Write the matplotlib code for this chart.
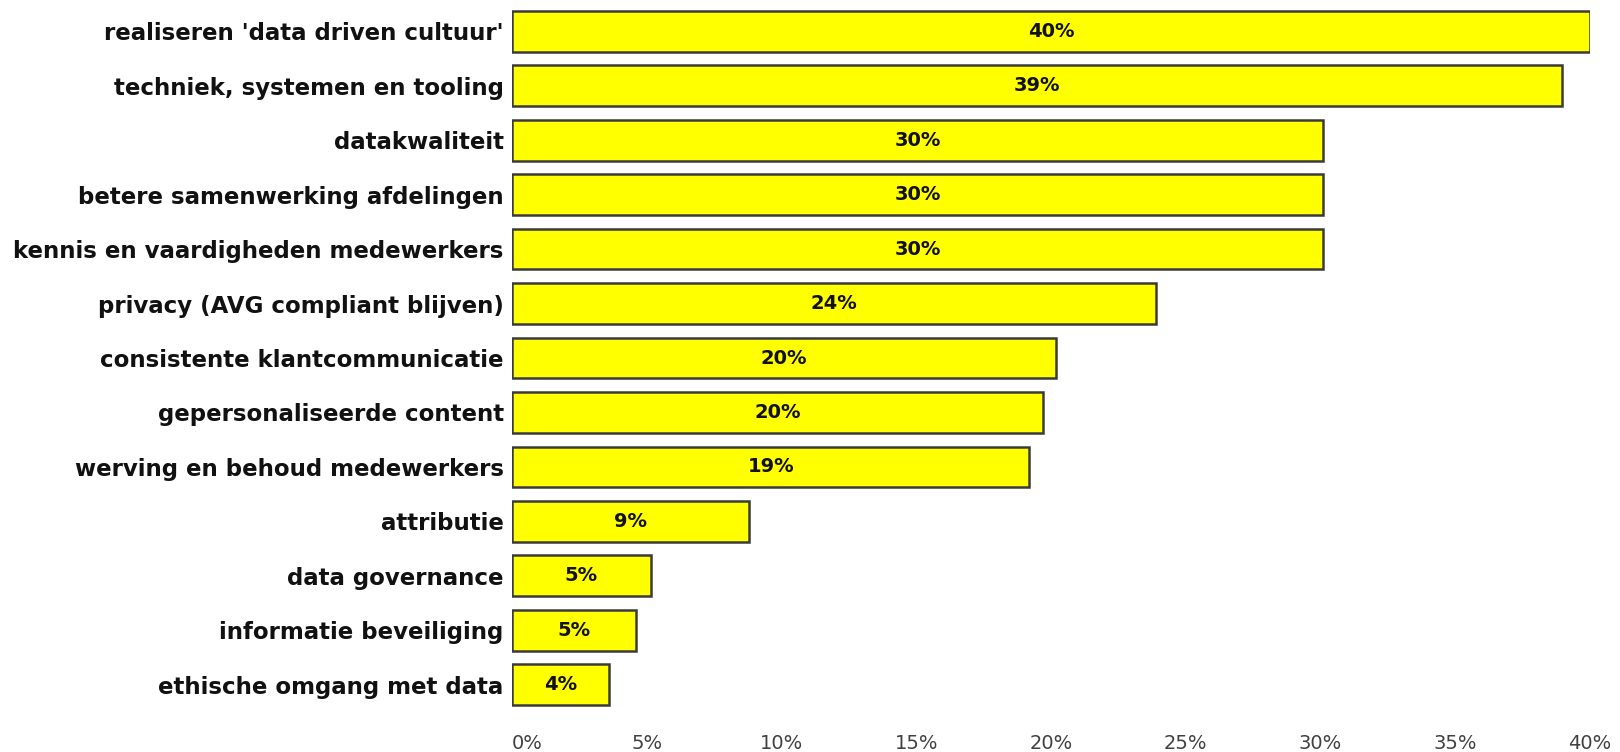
import matplotlib
matplotlib.use("Agg")
import matplotlib.pyplot as plt
from matplotlib.ticker import FixedLocator, FixedFormatter

categories = [
    "realiseren 'data driven cultuur'",
    "techniek, systemen en tooling",
    "datakwaliteit",
    "betere samenwerking afdelingen",
    "kennis en vaardigheden medewerkers",
    "privacy (AVG compliant blijven)",
    "consistente klantcommunicatie",
    "gepersonaliseerde content",
    "werving en behoud medewerkers",
    "attributie",
    "data governance",
    "informatie beveiliging",
    "ethische omgang met data",
]
values = [40.0, 38.96, 30.1, 30.1, 30.1, 23.9, 20.2, 19.7, 19.2, 8.8, 5.15, 4.6, 3.6]
value_labels = ["40%", "39%", "30%", "30%", "30%", "24%", "20%", "20%", "19%", "9%", "5%", "5%", "4%"]
x_ticks = [0, 5, 10, 15, 20, 25, 30, 35, 40]
x_tick_labels = ["0%", "5%", "10%", "15%", "20%", "25%", "30%", "35%", "40%"]

fig = plt.figure(figsize=(16.2, 7.52), dpi=100)
ax = fig.add_axes([512 / 1620, 1 - 712 / 752, (1590 - 512) / 1620, (712 - 4) / 752])

ypos = list(range(len(categories)))
ax.barh(ypos, values, height=0.75, color="#ffff00", edgecolor="#3a3a3a", linewidth=1.8, zorder=3)

for y, v, lab in zip(ypos, values, value_labels):
    ax.text(v / 2, y, lab, ha="center", va="center", fontsize=14, fontweight="bold",
            color="#111111", zorder=4)

ax.set_xlim(0, 40)
ax.set_ylim(len(categories) - 0.5, -0.5)
ax.set_yticks(ypos)
ax.set_yticklabels(categories, fontsize=16.5, fontweight="bold", color="#111111")
ax.xaxis.set_major_locator(FixedLocator(x_ticks))
ax.xaxis.set_major_formatter(FixedFormatter(x_tick_labels))
ax.tick_params(axis="y", length=0, pad=6)
ax.tick_params(axis="x", length=0, pad=16, labelsize=14, labelcolor="#404040")
for lbl in ax.get_xticklabels()[:1]:
    lbl.set_horizontalalignment("left")
for s in ax.spines.values():
    s.set_visible(False)

fig.savefig("out.png", dpi=100, facecolor="white")
